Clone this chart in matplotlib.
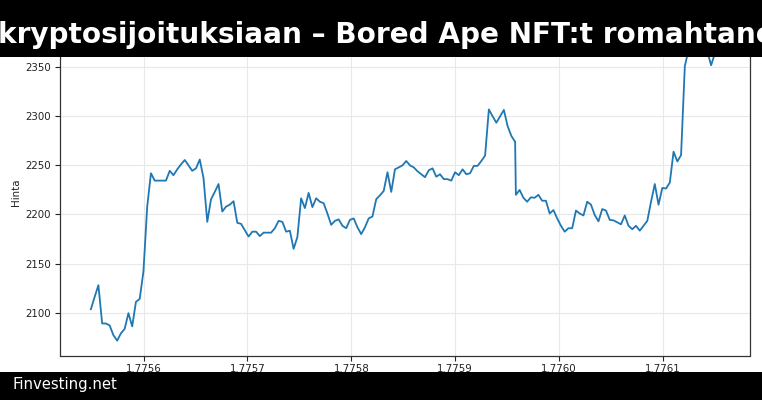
import numpy as np
import matplotlib
matplotlib.use("Agg")
import matplotlib.pyplot as plt
from matplotlib.patches import Rectangle
from matplotlib.ticker import MultipleLocator

# ---- data ----
t_start = 1775549231          # unix seconds of first sample
step_s = 3615                 # sampling interval (s)
seg2_offset_h = 113.2         # second segment starts here (hours)

price_seg1 = [
    2103.5, 2116, 2128, 2089, 2089, 2087, 2077, 2071.5, 2079, 2083.5,
    2099.5, 2086, 2111, 2114, 2142, 2208, 2242, 2234.5, 2234.5, 2234.5,
    2234.5, 2244.5, 2240, 2246, 2251, 2255.5, 2250, 2244.5, 2247, 2256,
    2237, 2192.5, 2215.5, 2223, 2231, 2203, 2208, 2210, 2213.5, 2191.5,
    2190.5, 2184, 2177.5, 2182.5, 2182.5, 2178, 2181.5, 2181.5, 2181.5, 2186,
    2193.5, 2192.5, 2182.5, 2183.5, 2165, 2177, 2216.5, 2206.5, 2222, 2207.5,
    2216.5, 2213, 2211.5, 2201, 2189.5, 2193.5, 2195, 2188.5, 2186, 2194.5,
    2196, 2187, 2180, 2187, 2196, 2198, 2215.5, 2219.5, 2224, 2243,
    2223, 2246, 2248, 2250, 2254.5, 2250, 2248, 2244, 2241, 2238,
    2245, 2247, 2238.5, 2241, 2236, 2236, 2234.5, 2243, 2240, 2246,
    2241, 2242, 2249.5, 2249.5, 2254.5, 2260, 2307, 2300, 2293.5, 2300,
    2306.5, 2290, 2280, 2274,
]
price_seg2 = [
    2220, 2225, 2217, 2213, 2217.5, 2217, 2220, 2214, 2214, 2201,
    2204.5, 2196, 2188.5, 2182.5, 2186, 2186, 2204, 2201, 2199, 2213,
    2210, 2199.5, 2193, 2205.5, 2204, 2194.5, 2194, 2192, 2190, 2199,
    2188.5, 2185, 2188.5, 2183.5, 2188.5, 2193.5, 2213, 2231, 2210, 2227,
    2226.5, 2232.5, 2264, 2254, 2260.5, 2351, 2368, 2372, 2365, 2374,
    2370, 2366, 2352, 2364, 2369,
]

title_text = "kryptosijoituksiaan – Bored Ape NFT:t romahtaneet"
footer_text = "Finvesting.net"
y_label = "Hinta"

# ---- build time axis ----
hours = np.concatenate([np.arange(len(price_seg1)),
                        seg2_offset_h + np.arange(len(price_seg2))])
times = t_start + hours * step_s
prices = np.array(price_seg1 + price_seg2)

# ---- figure ----
W, H = 762, 400
fig = plt.figure(figsize=(W / 100, H / 100), dpi=100)
ax = fig.add_axes([59.5 / W, 1 - 355.5 / H, (750 - 59.5) / W, (355.5 - 28.8) / H])

ax.plot(times, prices, color="#1f77b4", lw=1.3, zorder=3)
ax.margins(x=0.05, y=0.05)
ax.xaxis.set_major_locator(MultipleLocator(1e5))
ax.yaxis.set_major_locator(MultipleLocator(50))

ax.grid(True, color="#e8e8e8", lw=0.8, zorder=0)
ax.set_axisbelow(True)
for s in ax.spines.values():
    s.set_color("#333333")
    s.set_linewidth(0.9)
ax.tick_params(axis="both", labelsize=7.4, colors="#222222", length=3.5,
               width=0.8, pad=2.5)
ax.set_ylabel(y_label, fontsize=7.4, color="#222222", labelpad=3)

# banners
fig.patches.append(Rectangle((0, 1 - 57 / H), 1, 57 / H, transform=fig.transFigure,
                             facecolor="black", edgecolor="none", zorder=5))
fig.patches.append(Rectangle((0, 0), 1, 28 / H, transform=fig.transFigure,
                             facecolor="black", edgecolor="none", zorder=5))
fig.text(-2 / W, 1 - 35 / H, title_text, color="white", fontsize=20.1,
         fontweight="bold", ha="left", va="center", zorder=6)
fig.text(12 / W, 15 / H, footer_text, color="white", fontsize=10.7,
         ha="left", va="center", zorder=6)

fig.savefig("out.png", dpi=100)
